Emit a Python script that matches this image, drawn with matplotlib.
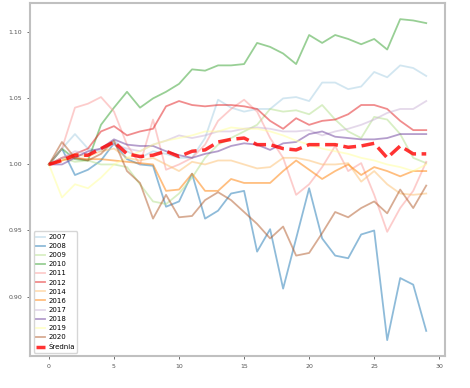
import matplotlib.pyplot as plt
import numpy as np

days = np.arange(30)

years = ['2007', '2008', '2009', '2010', '2011', '2012',
         '2014', '2016', '2017', '2018', '2019', '2020']

y2007 = [1.000, 1.012, 1.023, 1.012, 1.010, 1.018, 1.010, 1.005, 1.010, 1.008,
         1.005, 1.005, 1.020, 1.049, 1.043, 1.040, 1.042, 1.042, 1.050, 1.051,
         1.048, 1.062, 1.062, 1.057, 1.059, 1.070, 1.066, 1.075, 1.073, 1.067]
y2008 = [1.000, 1.012, 0.992, 0.996, 1.003, 1.016, 1.004, 1.000, 0.999, 0.968,
         0.972, 0.993, 0.959, 0.965, 0.978, 0.980, 0.934, 0.951, 0.906, 0.944,
         0.982, 0.944, 0.931, 0.929, 0.947, 0.950, 0.867, 0.914, 0.909, 0.874]
y2009 = [1.000, 1.005, 1.002, 1.003, 1.000, 1.000, 0.998, 0.985, 0.972, 0.970,
         0.978, 0.990, 1.005, 1.015, 1.020, 1.025, 1.030, 1.042, 1.040, 1.041,
         1.038, 1.045, 1.034, 1.025, 1.020, 1.036, 1.034, 1.023, 1.005, 1.001]
y2010 = [1.000, 1.012, 1.004, 1.003, 1.030, 1.043, 1.055, 1.043, 1.050, 1.055,
         1.061, 1.072, 1.071, 1.075, 1.075, 1.076, 1.092, 1.089, 1.084, 1.076,
         1.098, 1.092, 1.098, 1.095, 1.091, 1.095, 1.087, 1.110, 1.109, 1.107]
y2011 = [1.000, 1.012, 1.043, 1.046, 1.051, 1.040, 1.015, 1.000, 1.034, 0.996,
         1.000, 1.005, 1.015, 1.033, 1.042, 1.049, 1.040, 1.020, 1.005, 0.977,
         0.985, 0.998, 1.014, 0.995, 1.001, 0.977, 0.949, 0.967, 0.980, 1.002]
y2012 = [1.000, 1.005, 1.008, 1.012, 1.025, 1.029, 1.022, 1.025, 1.027, 1.044,
         1.048, 1.045, 1.044, 1.045, 1.045, 1.044, 1.042, 1.033, 1.027, 1.035,
         1.030, 1.033, 1.034, 1.038, 1.045, 1.045, 1.042, 1.033, 1.026, 1.026]
y2014 = [1.000, 1.003, 1.008, 1.006, 1.010, 1.012, 1.005, 1.003, 1.005, 1.000,
         0.995, 1.002, 1.000, 1.003, 1.003, 1.000, 0.997, 0.998, 1.005, 1.005,
         1.003, 1.000, 1.000, 1.001, 0.987, 0.995, 0.985, 0.978, 0.977, 0.978]
y2016 = [1.000, 1.003, 1.005, 1.004, 1.004, 1.003, 1.002, 1.001, 1.000, 0.980,
         0.981, 0.993, 0.980, 0.980, 0.989, 0.986, 0.986, 0.986, 0.995, 1.003,
         0.996, 0.989, 0.995, 1.000, 0.992, 0.998, 0.995, 0.991, 0.995, 0.995]
y2017 = [1.000, 1.005, 1.010, 1.008, 1.012, 1.015, 1.012, 1.010, 1.015, 1.018,
         1.022, 1.020, 1.022, 1.025, 1.025, 1.027, 1.028, 1.027, 1.025, 1.025,
         1.026, 1.022, 1.025, 1.027, 1.030, 1.034, 1.039, 1.042, 1.042, 1.048]
y2018 = [1.000, 1.000, 1.005, 1.010, 1.012, 1.019, 1.015, 1.014, 1.014, 1.010,
         1.007, 1.005, 1.008, 1.010, 1.014, 1.016, 1.015, 1.011, 1.016, 1.017,
         1.023, 1.025, 1.021, 1.020, 1.019, 1.019, 1.020, 1.023, 1.023, 1.023]
y2019 = [1.000, 0.975, 0.985, 0.982, 0.990, 1.000, 1.005, 1.010, 1.015, 1.018,
         1.020, 1.022, 1.025, 1.025, 1.028, 1.027, 1.027, 1.025, 1.022, 1.018,
         1.015, 1.012, 1.010, 1.008, 1.005, 1.003, 1.000, 0.998, 0.995, 1.000]
y2020 = [1.000, 1.017, 1.005, 1.003, 1.008, 1.018, 0.995, 0.986, 0.959, 0.977,
         0.960, 0.961, 0.973, 0.979, 0.973, 0.964, 0.955, 0.944, 0.953, 0.931,
         0.933, 0.948, 0.964, 0.960, 0.967, 0.972, 0.963, 0.981, 0.967, 0.984]

srednia = [1.000, 1.003, 1.007, 1.007, 1.012, 1.017, 1.008, 1.006, 1.007, 1.010,
           1.006, 1.010, 1.011, 1.017, 1.019, 1.020, 1.015, 1.015, 1.012, 1.011,
           1.015, 1.015, 1.015, 1.013, 1.014, 1.016, 1.005, 1.014, 1.008, 1.008]

series = [y2007, y2008, y2009, y2010, y2011, y2012,
          y2014, y2016, y2017, y2018, y2019, y2020]

fig = plt.figure(figsize=(4.7, 3.88), dpi=100)
ax = fig.add_axes([0.064, 0.082, 0.883, 0.910])

# Paired palette, one colour per year
colors = plt.cm.Paired(np.arange(len(years)))
for year, values, color in zip(years, series, colors):
    ax.plot(days, values, color=color, alpha=0.5, linewidth=1.3, label=year)

ax.plot(days, srednia, color='red', linestyle='--', linewidth=2.5,
        alpha=0.8, label='Średnia')

ax.set_yticks([0.90, 0.95, 1.00, 1.05, 1.10])
ax.set_xticks([0, 5, 10, 15, 20, 25, 30])
ax.tick_params(labelsize=4.5, colors='#555555', length=2, width=0.6)

for spine in ax.spines.values():
    spine.set_color('#c0c0c0')
    spine.set_linewidth(1.5)

ax.legend(loc='lower left', fontsize=5, labelspacing=0.45,
          handlelength=1.2, handletextpad=0.5, borderpad=0.4,
          framealpha=0.8)

plt.savefig('out.png', dpi=100, facecolor='white')
